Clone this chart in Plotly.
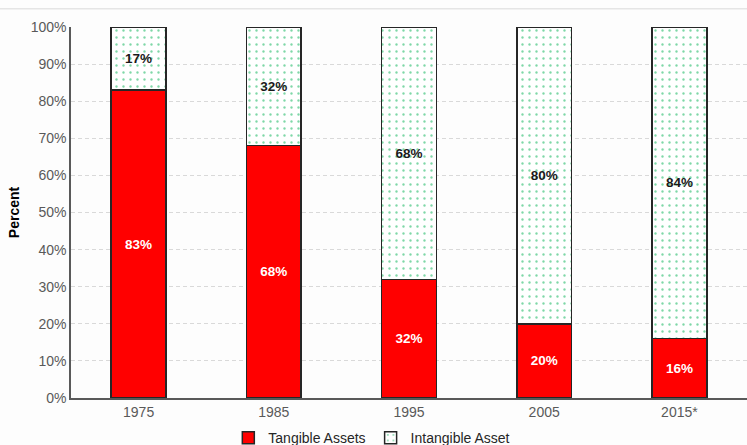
import plotly.graph_objects as go

years = ["1975", "1985", "1995", "2005", "2015*"]
tangible = [83, 68, 32, 20, 16]
intangible = [17, 32, 68, 80, 84]
y_ticks = [0, 10, 20, 30, 40, 50, 60, 70, 80, 90, 100]
y_tick_labels = [f"{v}%" for v in y_ticks]

fig = go.Figure()
fig.add_trace(go.Bar(
    x=years, y=tangible, name="Tangible Assets",
    marker=dict(color="#ff0000", line=dict(color="#262626", width=1.5)),
    text=[f"<b>{v}%</b>" for v in tangible], textposition="inside",
    insidetextanchor="middle", textfont=dict(color="white", size=13.5, family="Liberation Sans"),
    width=0.405,
))
fig.add_trace(go.Bar(
    x=years, y=intangible, name="Intangible Asset",
    marker=dict(color="white", line=dict(color="#262626", width=1.5),
                pattern=dict(shape=".", fgcolor="#00b050", bgcolor="white", size=7, solidity=0.09)),
    text=[f"<b>{v}%</b>" for v in intangible], textposition="inside",
    insidetextanchor="middle", textfont=dict(color="#1a1a1a", size=13.5, family="Liberation Sans"),
    width=0.405,
))

fig.update_layout(
    barmode="stack",
    width=747, height=445,
    margin=dict(l=71, r=0, t=27, b=47, autoexpand=False),
    paper_bgcolor="#fdfdfd", plot_bgcolor="#fdfdfd",
    font=dict(family="Liberation Sans", size=14, color="#595959"),
    showlegend=True,
    legend=dict(orientation="h", x=0.445, xanchor="center", y=-0.108, yanchor="middle",
                font=dict(size=14, color="#262626"), traceorder="normal",
                itemwidth=30, bgcolor="rgba(0,0,0,0)"),
    uniformtext=dict(minsize=8, mode="show"),
)
fig.update_xaxes(showline=True, linecolor="#595959", linewidth=1.5, ticks="", automargin=False,
                 tickfont=dict(size=14, color="#595959"))
fig.update_yaxes(range=[0, 100], tickvals=y_ticks, ticktext=y_tick_labels, automargin=False,
                 showline=True, linecolor="#595959", linewidth=1.5,
                 showgrid=True, gridcolor="#d9d9d9", griddash="4px,3px", gridwidth=1,
                 zeroline=False, ticks="", ticklen=0,
                 title=dict(text="<b>Percent</b>", font=dict(size=14, color="#000000"), standoff=8),
                 tickfont=dict(size=14, color="#595959"))
fig.add_shape(type="line", xref="paper", yref="paper", x0=-0.2, x1=1.05, y0=1.049, y1=1.049,
              line=dict(color="#d9d9d9", width=1))
fig.write_html("out.html", config={"displayModeBar": False},
               post_script="document.body.style.margin='0';document.body.style.overflow='hidden';")
